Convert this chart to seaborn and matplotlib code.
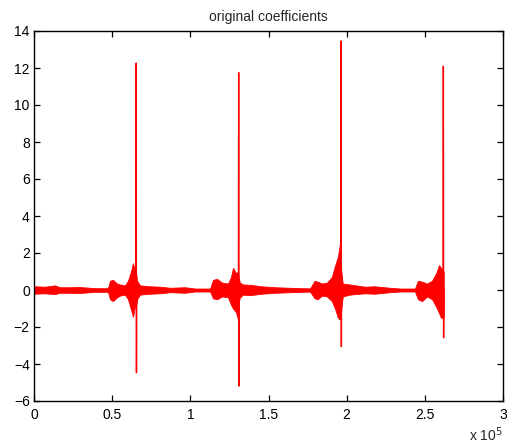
import matplotlib
matplotlib.use("Agg")
import matplotlib.pyplot as plt
import seaborn as sns
import pandas as pd
import numpy as np

# Noise envelope (x in thousands of samples)
band_x_k = [0, 7.0, 13.4, 16.6, 23.0, 29.4, 39.0, 47.3, 48.6, 50.5, 53.1, 55.0, 58.2, 60.1, 62.0,
            63.3, 64.6, 65.5, 65.9, 67.8, 74.2, 80.6, 87.0, 96.6, 103.0, 112.6, 114.5, 117.1,
            120.3, 124.1, 126.0, 127.3, 129.2, 130.5, 131.1, 131.7, 133.7, 138.2, 145.8, 154.2,
            163.8, 170.2, 176.6, 179.5, 181.5, 184.2, 187.4, 190.5, 192.5, 194.4, 195.7, 196.6,
            197.5, 201.9, 211.5, 218.1, 227.7, 234.1, 243.7, 245.6, 248.2, 251.5, 254.6, 257.2,
            259.1, 260.3, 262.1]
band_hi = [0.20, 0.18, 0.25, 0.15, 0.15, 0.16, 0.10, 0.10, 0.50, 0.55, 0.35, 0.30, 0.25, 0.50, 1.00,
           1.45, 1.00, 0.80, 0.50, 0.25, 0.20, 0.18, 0.12, 0.15, 0.08, 0.08, 0.55, 0.60,
           0.40, 0.35, 0.70, 1.20, 0.90, 1.00, 0.60, 0.40, 0.30, 0.28, 0.20, 0.15,
           0.12, 0.10, 0.09, 0.50, 0.45, 0.35, 0.40, 0.70, 1.30, 1.80, 2.50, 1.00,
           0.35, 0.30, 0.18, 0.20, 0.12, 0.08, 0.08, 0.50, 0.45, 0.35, 0.50, 0.90,
           1.35, 1.20, 1.00]
band_lo = [-0.20, -0.18, -0.22, -0.15, -0.15, -0.16, -0.10, -0.10, -0.50, -0.60, -0.40, -0.30, -0.25, -0.50, -1.05,
           -1.45, -0.90, -0.80, -0.50, -0.25, -0.20, -0.18, -0.12, -0.15, -0.08, -0.08, -0.45, -0.50,
           -0.35, -0.40, -0.80, -1.00, -1.20, -1.60, -0.60, -0.40, -0.25, -0.28, -0.20, -0.15,
           -0.12, -0.10, -0.09, -0.45, -0.50, -0.30, -0.35, -0.60, -1.00, -1.50, -1.60, -1.00,
           -0.35, -0.25, -0.18, -0.20, -0.12, -0.08, -0.08, -0.50, -0.60, -0.35, -0.50, -0.90,
           -1.25, -1.50, -1.50]

# Spikes at the end of each block
spike_x = [65536, 131072, 196608, 262000]
spike_peak = [12.27, 11.75, 13.46, 12.10]
spike_min = [-4.47, -5.19, -3.06, -2.58]

xticks = [0, 0.5e5, 1e5, 1.5e5, 2e5, 2.5e5, 3e5]
xtick_labels = ["0", "0.5", "1", "1.5", "2", "2.5", "3"]
yticks = [-6, -4, -2, 0, 2, 4, 6, 8, 10, 12, 14]

sns.set_theme(style="ticks")
plt.rcParams["font.family"] = ["Liberation Sans", "DejaVu Sans"]

fig = plt.figure(figsize=(5.07, 4.43), dpi=100)
ax = fig.add_axes([34 / 507, 42 / 443, 469 / 507, 370 / 443])

bx = np.array(band_x_k) * 1000.0
ax.fill_between(bx, band_lo, band_hi, color="#ff0000", linewidth=0.6, edgecolor="#ff0000")

rows = []
for i, (sx, pk, mn) in enumerate(zip(spike_x, spike_peak, spike_min)):
    rows += [
        {"spike": i, "x": sx - 300, "y": 0.0},
        {"spike": i, "x": sx - 150, "y": pk},
        {"spike": i, "x": sx, "y": mn},
        {"spike": i, "x": sx + 100, "y": 0.0},
    ]
df = pd.DataFrame(rows)
sns.lineplot(data=df, x="x", y="y", units="spike", estimator=None, sort=False,
             color="#ff0000", linewidth=1.0, ax=ax, legend=False)

ax.set_xlim(0, 3e5)
ax.set_ylim(-6, 14)
ax.set_xticks(xticks)
ax.set_xticklabels(xtick_labels)
ax.set_yticks(yticks)
ax.set_xlabel("")
ax.set_ylabel("")
ax.tick_params(direction="in", length=4, width=0.9, top=True, right=True,
               labelsize=10, colors="black")
ax.tick_params(axis="x", pad=5)
ax.tick_params(axis="y", pad=3)
for lab in ax.get_yticklabels():
    lab.set_verticalalignment("center_baseline")
for s in ax.spines.values():
    s.set_visible(True)
    s.set_color("black")
    s.set_linewidth(1.0)
ax.set_title("original coefficients", fontsize=10, pad=7)
fig.text(503 / 507, 8 / 443, r"x 10$^{5}$", ha="right", va="center", fontsize=10)

fig.savefig("out.png", dpi=100, facecolor="white")
